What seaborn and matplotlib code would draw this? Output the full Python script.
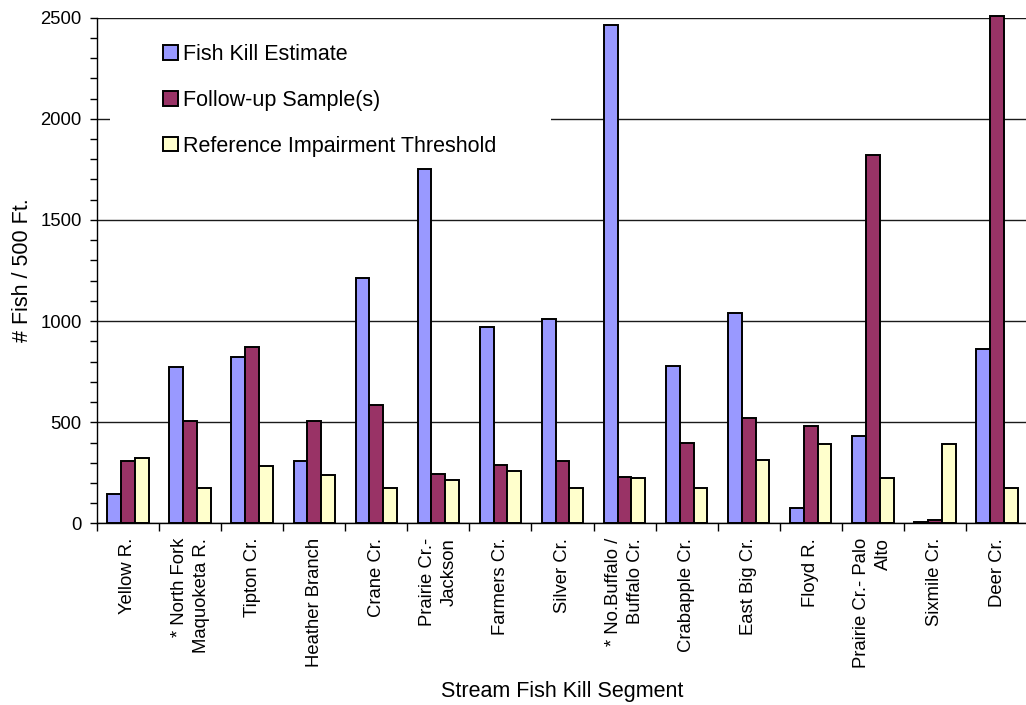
import numpy as np
import pandas as pd
import matplotlib
matplotlib.use("Agg")
import matplotlib.pyplot as plt
from matplotlib.patches import Rectangle
from matplotlib.ticker import MultipleLocator, FixedLocator, NullFormatter
import seaborn as sns

# Stream segments and fish counts per 500 ft
segments = [
    "Yellow R.", "* North Fork\nMaquoketa R.", "Tipton Cr.", "Heather Branch",
    "Crane Cr.", "Prairie Cr.-\nJackson", "Farmers Cr.", "Silver Cr.",
    "* No.Buffalo /\nBuffalo Cr.", "Crabapple Cr.", "East Big Cr.", "Floyd R.",
    "Prairie Cr.- Palo\nAlto", "Sixmile Cr.", "Deer Cr.",
]
fish_kill_estimate = [145, 772, 823, 308, 1215, 1752, 970, 1010, 2462,
                      780, 1041, 78, 432, 5, 860]
follow_up_samples = [307, 508, 873, 505, 584, 244, 290, 307, 231,
                     398, 520, 480, 1819, 17, 2510]
reference_threshold = [323, 175, 284, 238, 175, 214, 257, 175, 224,
                       175, 314, 393, 224, 393, 175]

series_names = ["Fish Kill Estimate", "Follow-up Sample(s)",
                "Reference Impairment Threshold"]
series_colors = ["#9999FF", "#993366", "#FFFFCC"]
y_ticks = [0, 500, 1000, 1500, 2000, 2500]

df = pd.DataFrame({
    "segment": segments * 3,
    "series": np.repeat(series_names, len(segments)),
    "value": fish_kill_estimate + follow_up_samples + reference_threshold,
})

sns.set_style("white")
plt.rcParams["font.family"] = ["Liberation Sans", "DejaVu Sans"]
plt.rcParams.update({
    "text.color": "black",
    "axes.labelcolor": "black",
    "xtick.color": "black",
    "ytick.color": "black",
})

fig = plt.figure(figsize=(10.26, 7.05), dpi=100)
ax = fig.add_axes([0.0945, 0.2575, 0.9075, 0.7175])

sns.barplot(data=df, x="segment", y="value", hue="series",
            order=segments, hue_order=series_names,
            palette=series_colors, saturation=1, width=0.667,
            edgecolor="black", linewidth=1.4, legend=False, ax=ax,
            zorder=3)
for patch in ax.patches:
    patch.set_clip_on(False)

n = len(segments)
ax.set_xlim(-0.5, n - 0.5)
ax.set_ylim(0, 2500)

# Horizontal gridlines at the major y ticks
ax.set_axisbelow(True)
ax.yaxis.set_major_locator(FixedLocator(y_ticks))
ax.yaxis.set_minor_locator(MultipleLocator(100))
ax.yaxis.grid(True, which="major", color="#1a1a1a", linewidth=1.0, zorder=0)
ax.xaxis.grid(False)

# White backdrop behind the legend, breaking the gridline there
ax.add_patch(Rectangle((-0.29, 1800), 7.1, 640, facecolor="white",
                       edgecolor="none", zorder=1))

# Tick marks between categories, labels at the category centres
ax.xaxis.set_major_locator(FixedLocator(np.arange(n + 1) - 0.5))
ax.xaxis.set_major_formatter(NullFormatter())
ax.xaxis.set_minor_locator(FixedLocator(np.arange(n)))
ax.set_xticklabels(segments, minor=True, rotation=90, fontsize=13.3,
                   ha="center", va="top", multialignment="right",
                   linespacing=1.38)
ax.tick_params(axis="x", which="major", bottom=True, direction="out",
               length=6, width=1, color="black")
ax.tick_params(axis="x", which="minor", bottom=True, length=0, pad=10.5)
ax.tick_params(axis="y", which="both", left=True, direction="out", length=5,
               width=1, color="black", labelsize=13.3, pad=6)

for side in ["top", "right"]:
    ax.spines[side].set_visible(False)
for side in ["left", "bottom"]:
    ax.spines[side].set_color("black")
    ax.spines[side].set_linewidth(1.0)

ax.set_xlabel("Stream Fish Kill Segment", fontsize=15.5, labelpad=9)
ax.set_ylabel("# Fish / 500 Ft.", fontsize=15.5, labelpad=5.5)

handles = [ax.containers[i].patches[0] for i in range(3)]
leg = ax.legend(handles, series_names, loc="upper left",
                bbox_to_anchor=(0.0709, 0.948), frameon=False,
                fontsize=15.5, handlelength=0.7, handleheight=0.65,
                handletextpad=0.25, labelspacing=1.16, borderpad=0,
                borderaxespad=0)
leg.set_zorder(5)

fig.savefig("out.png", dpi=100)
